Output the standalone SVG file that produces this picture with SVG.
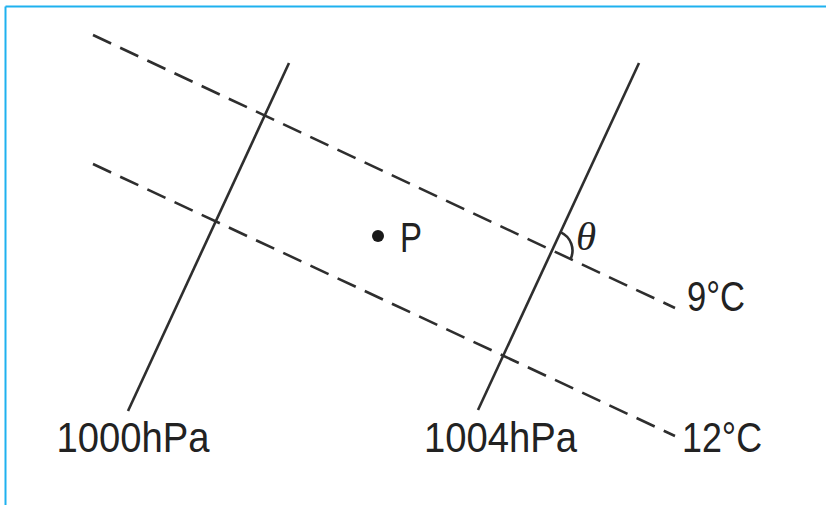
<svg xmlns="http://www.w3.org/2000/svg" width="826" height="505" viewBox="0 0 826 505">
<style>
.frame{stroke:#1fb1ef;stroke-width:2;fill:none}
.iso{stroke:#2e2e2e;stroke-width:2.6;fill:none;stroke-linecap:butt}
.dash{stroke-dasharray:20 10}
.lbl{font-family:"Liberation Sans",Arial,sans-serif;font-size:43px;fill:#222}
.th{font-family:"Liberation Serif","Times New Roman",serif;font-style:italic;font-size:41px;fill:#222}
</style>
<rect width="826" height="505" fill="#fff"/>
<g id="frame">
<line class="frame" x1="5.5" y1="6.5" x2="826" y2="6.5"/>
<line class="frame" x1="5.5" y1="6.5" x2="5.5" y2="505"/>
</g>
<g id="connectors">
<line id="isotherm-9" class="iso dash" x1="93" y1="35" x2="675" y2="308"/>
<line id="isotherm-12" class="iso dash" x1="93" y1="164" x2="675" y2="436"/>
<line id="isobar-1000" class="iso" x1="289" y1="63" x2="128" y2="411"/>
<line id="isobar-1004" class="iso" x1="639" y1="63" x2="478" y2="410"/>
<path id="angle-arc" class="iso" d="M560.9,232.4 A20,20 0 0 1 570.6,259"/>
</g>
<g id="point-P">
<circle cx="378" cy="236" r="6" fill="#1a1a1a"/>
<text class="lbl" x="400" y="251.5" font-size="38" textLength="22" lengthAdjust="spacingAndGlyphs">P</text>
</g>
<g id="theta"><text class="th" x="576" y="250">θ</text></g>
<g id="label-9C"><text class="lbl" x="687" y="310.5" font-size="40" textLength="58" lengthAdjust="spacingAndGlyphs">9°C</text></g>
<g id="label-12C"><text class="lbl" x="682" y="452" textLength="80" lengthAdjust="spacingAndGlyphs">12°C</text></g>
<g id="label-1000"><text class="lbl" x="56.5" y="451.5" textLength="153" lengthAdjust="spacingAndGlyphs">1000hPa</text></g>
<g id="label-1004"><text class="lbl" x="424" y="452" textLength="153" lengthAdjust="spacingAndGlyphs">1004hPa</text></g>
</svg>
